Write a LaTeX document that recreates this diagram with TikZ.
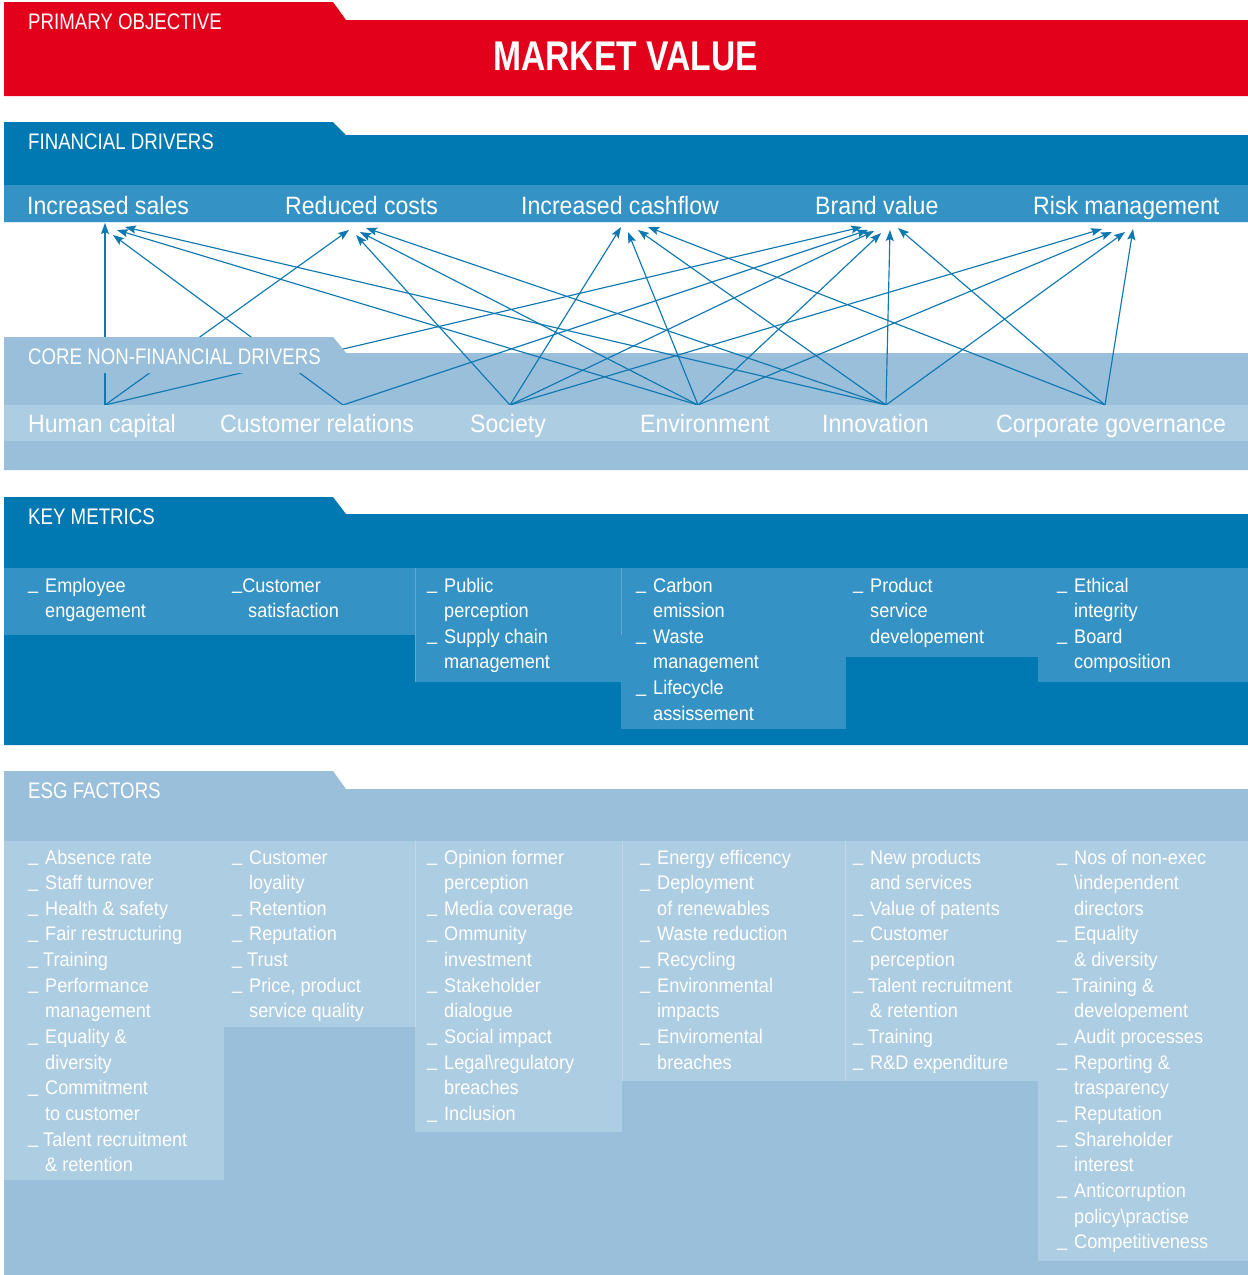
\documentclass[tikz,border=0pt]{standalone}
\usepackage{fontspec}
\setmainfont{Liberation Sans}
\newfontfamily\hdrf{Liberation Sans}[FakeStretch=0.83]
\newfontfamily\bodf{Liberation Sans}[FakeStretch=0.92]
\newfontfamily\mvf{Liberation Sans}[FakeStretch=0.81]
\usetikzlibrary{arrows.meta}
\definecolor{redA}{HTML}{E2001A}
\definecolor{dkA}{HTML}{0078B2}
\definecolor{mdA}{HTML}{3592C4}
\definecolor{plA}{HTML}{9ABFDA}
\definecolor{ltA}{HTML}{ADCDE3}
\definecolor{arA}{HTML}{0F78B1}
\newcommand\undsc{\raisebox{2.5pt}{\_}}
\newcommand\bitem[1]{\hbox{\makebox[17pt][l]{\undsc}#1}}
\newcommand\titem[1]{\hbox{\makebox[15pt][l]{\undsc}#1}}
\newcommand\bcont[1]{\hbox{\hspace*{17pt}#1}}
\newcommand\bcol[1]{\vtop{\baselineskip=25.65pt #1}}
\begin{document}
\begin{tikzpicture}[x=1pt,y=-1pt,
  hdr/.style={anchor=base west, inner sep=0pt, text=white, font=\hdrf\fontsize{22.5}{27}\selectfont},
  big/.style={anchor=base west, inner sep=0pt, text=white, font=\bodf\fontsize{25.1}{28}\selectfont},
  lst/.style={anchor=base west, inner sep=0pt, text=white, font=\bodf\fontsize{19.7}{25.65}\selectfont},
  arr/.style={draw=arA, line width=1.15pt, -{Stealth[length=11pt,width=8pt,inset=2pt]}},
  sep/.style={draw=white, draw opacity=0.22, line width=0.9pt}]
\useasboundingbox (0,0) rectangle (1248,1275);
\fill[white] (0,0) rectangle (1248,1275);
% ---------- primary objective
\fill[redA] (4,2) -- (333,2) -- (346,20) -- (1248,20) -- (1248,96) -- (4,96) -- cycle;
\node[hdr] (po) at (28,29) {PRIMARY OBJECTIVE};
\node[anchor=base, inner sep=0pt, text=white, font=\mvf\bfseries\fontsize{41.5}{45}\selectfont] (mv) at (625.5,70) {MARKET VALUE};
% ---------- financial drivers
\fill[dkA] (4,122) -- (333,122) -- (346,135) -- (1248,135) -- (1248,222) -- (4,222) -- cycle;
\fill[mdA] (4,185) rectangle (1248,222);
\node[hdr] (fd) at (28,149) {FINANCIAL DRIVERS};
\node[big] (sales) at (27,214) {Increased sales};
\node[big] (costs) at (285,214) {Reduced costs};
\node[big] (cash) at (521,214) {Increased cashflow};
\node[big] (brand) at (815,214) {Brand value};
\node[big] (risk) at (1033,214) {Risk management};
% ---------- core non-financial drivers
\fill[plA] (4,337) -- (333,337) -- (346,353) -- (1248,353) -- (1248,470) -- (4,470) -- cycle;
% source points
\coordinate (hcS) at (105,405);
\coordinate (crS) at (343,405);
\coordinate (soS) at (510,405);
\coordinate (enS) at (698,405);
\coordinate (inS) at (886,405);
\coordinate (cgS) at (1105,405);
% target tips
\coordinate (salesHC) at (105,223);
\coordinate (salesCR) at (113,235);
\coordinate (salesEN) at (117,230);
\coordinate (salesIN) at (125,227);
\coordinate (costsHC) at (349,230);
\coordinate (costsSO) at (356,235);
\coordinate (costsEN) at (360,232);
\coordinate (costsIN) at (366,228);
\coordinate (cashSO) at (621,227);
\coordinate (cashEN) at (628,232);
\coordinate (cashIN) at (638,230);
\coordinate (cashCG) at (648,227);
\coordinate (brandHC) at (862,227);
\coordinate (brandCR) at (868,230);
\coordinate (brandSO) at (874,231);
\coordinate (brandEN) at (881,233);
\coordinate (brandIN) at (890,230);
\coordinate (brandCG) at (898,228);
\coordinate (riskSO) at (1102,229);
\coordinate (riskEN) at (1112,232);
\coordinate (riskIN) at (1125,232);
\coordinate (riskCG) at (1133,229);
% arrows
\draw[arr] (hcS) -- (salesHC);
\draw[arr] (hcS) -- (costsHC);
\draw[arr] (hcS) -- (brandHC);
\draw[arr] (crS) -- (salesCR);
\draw[arr] (crS) -- (brandCR);
\draw[arr] (soS) -- (costsSO);
\draw[arr] (soS) -- (cashSO);
\draw[arr] (soS) -- (brandSO);
\draw[arr] (soS) -- (riskSO);
\draw[arr] (enS) -- (salesEN);
\draw[arr] (enS) -- (costsEN);
\draw[arr] (enS) -- (cashEN);
\draw[arr] (enS) -- (brandEN);
\draw[arr] (enS) -- (riskEN);
\draw[arr] (inS) -- (salesIN);
\draw[arr] (inS) -- (costsIN);
\draw[arr] (inS) -- (cashIN);
\draw[arr] (inS) -- (brandIN);
\draw[arr] (inS) -- (riskIN);
\draw[arr] (cgS) -- (cashCG);
\draw[arr] (cgS) -- (brandCG);
\draw[arr] (cgS) -- (riskCG);
% label backing covers the lines
\fill[plA] (4,337) -- (333,337) -- (346,353) -- (346,373) -- (4,373) -- cycle;
\node[hdr] (cnfd) at (28,364) {CORE NON-FINANCIAL DRIVERS};
\fill[ltA] (4,405) rectangle (1248,441);
\node[big] (hc) at (28,432) {Human capital};
\node[big] (cr) at (220,432) {Customer relations};
\node[big] (so) at (470,432) {Society};
\node[big] (en) at (640,432) {Environment};
\node[big] (in) at (822,432) {Innovation};
\node[big] (cg) at (996,432) {Corporate governance};
% ---------- key metrics
\fill[dkA] (4,497) -- (333,497) -- (346,514) -- (1248,514) -- (1248,745) -- (4,745) -- cycle;
\node[hdr] (km) at (28,524) {KEY METRICS};
\fill[mdA] (4,568) rectangle (415,635);
\fill[mdA] (415,568) rectangle (621,682);
\fill[mdA] (621,568) rectangle (846,729);
\fill[mdA] (846,568) rectangle (1038,657);
\fill[mdA] (1038,568) rectangle (1248,682);
\draw[sep] (415.5,568) -- (415.5,682);
\draw[sep] (621.5,568) -- (621.5,635);
\node[lst] (km1) at (28,592) {\bcol{\bitem{Employee}\bcont{engagement}}};
\node[lst] (km2) at (232,592) {\bcol{\hbox{\undsc Customer}\hbox{\hspace*{16pt}satisfaction}}};
\node[lst] (km3) at (427,592) {\bcol{\bitem{Public}\bcont{perception}\bitem{Supply chain}\bcont{management}}};
\node[lst] (km4) at (636,592) {\bcol{\bitem{Carbon}\bcont{emission}\bitem{Waste}\bcont{management}\bitem{Lifecycle}\bcont{assissement}}};
\node[lst] (km5) at (853,592) {\bcol{\bitem{Product}\bcont{service}\bcont{developement}}};
\node[lst] (km6) at (1057,592) {\bcol{\bitem{Ethical}\bcont{integrity}\bitem{Board}\bcont{composition}}};
% ---------- ESG factors
\fill[plA] (4,771) -- (333,771) -- (346,789) -- (1248,789) -- (1248,1275) -- (4,1275) -- cycle;
\node[hdr] (esg) at (28,798) {ESG FACTORS};
\fill[ltA] (4,841) rectangle (224,1180);
\fill[ltA] (224,841) rectangle (415,1027);
\fill[ltA] (415,841) rectangle (622,1132);
\fill[ltA] (622,841) rectangle (1038,1081);
\fill[ltA] (1038,841) rectangle (1248,1261);
\draw[sep] (415.5,841) -- (415.5,1027);
\draw[sep] (622.5,841) -- (622.5,1081);
\draw[sep] (845.5,841) -- (845.5,1081);
\node[lst] (e1) at (28,864) {\bcol{\bitem{Absence rate}\bitem{Staff turnover}\bitem{Health \& safety}\bitem{Fair restructuring}\titem{Training}\bitem{Performance}\bcont{management}\bitem{Equality \&}\bcont{diversity}\bitem{Commitment}\bcont{to customer}\titem{Talent recruitment}\bcont{\& retention}}};
\node[lst] (e2) at (232,864) {\bcol{\bitem{Customer}\bcont{loyality}\bitem{Retention}\bitem{Reputation}\titem{Trust}\bitem{Price, product}\bcont{service quality}}};
\node[lst] (e3) at (427,864) {\bcol{\bitem{Opinion former}\bcont{perception}\bitem{Media coverage}\bitem{Ommunity}\bcont{investment}\bitem{Stakeholder}\bcont{dialogue}\bitem{Social impact}\bitem{Legal\textbackslash regulatory}\bcont{breaches}\bitem{Inclusion}}};
\node[lst] (e4) at (640,864) {\bcol{\bitem{Energy efficency}\bitem{Deployment}\bcont{of renewables}\bitem{Waste reduction}\bitem{Recycling}\bitem{Environmental}\bcont{impacts}\bitem{Enviromental}\bcont{breaches}}};
\node[lst] (e5) at (853,864) {\bcol{\bitem{New products}\bcont{and services}\bitem{Value of patents}\bitem{Customer}\bcont{perception}\titem{Talent recruitment}\bcont{\& retention}\titem{Training}\bitem{R\&D expenditure}}};
\node[lst] (e6) at (1057,864) {\bcol{\bitem{Nos of non-exec}\bcont{\textbackslash independent}\bcont{directors}\bitem{Equality}\bcont{\& diversity}\titem{Training \&}\bcont{developement}\bitem{Audit processes}\bitem{Reporting \&}\bcont{trasparency}\bitem{Reputation}\bitem{Shareholder}\bcont{interest}\bitem{Anticorruption}\bcont{policy\textbackslash practise}\bitem{Competitiveness}}};
\end{tikzpicture}
\end{document}
